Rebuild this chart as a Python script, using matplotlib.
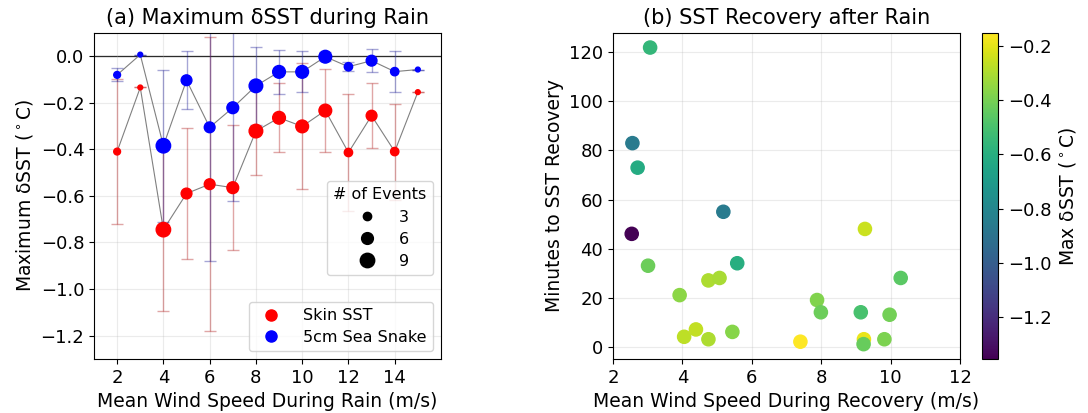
import numpy as np
import matplotlib
matplotlib.use('Agg')
import matplotlib.pyplot as plt
from matplotlib.lines import Line2D

# (a) binned wind speed, maximum dSST per bin
wind_bins = [2, 3, 4, 5, 6, 7, 8, 9, 10, 11, 12, 13, 14, 15]
n_events = [2, 1, 9, 5, 5, 6, 8, 7, 7, 7, 3, 5, 3, 1]
skin_mean = [-0.41, -0.135, -0.745, -0.59, -0.55, -0.565, -0.322, -0.265, -0.302, -0.234, -0.414, -0.256, -0.41, -0.155]
skin_std = [0.31, 0.0, 0.35, 0.28, 0.63, 0.267, 0.187, 0.149, 0.27, 0.177, 0.25, 0.139, 0.206, 0.0]
snake_mean = [-0.081, 0.006, -0.385, -0.104, -0.306, -0.222, -0.128, -0.068, -0.068, -0.003, -0.046, -0.02, -0.067, -0.058]
snake_std = [0.028, 0.0, 0.326, 0.125, 0.574, 0.4, 0.168, 0.093, 0.088, 0.02, 0.02, 0.05, 0.088, 0.0]

# (b) recovery events
rec_wind = [2.54, 5.18, 9.26, 3.01, 5.58, 4.75, 5.07, 10.29, 3.92, 7.88, 7.99, 9.14,
            9.97, 4.05, 4.39, 4.75, 5.44, 7.40, 9.23, 9.22, 9.82, 3.07, 2.56, 2.71]
rec_minutes = [46, 55, 48, 33, 34, 27, 28, 28, 21, 19, 14, 14,
               13, 4, 7, 3, 6, 2, 3, 1, 3, 122, 83, 73]
rec_dsst = [-1.353, -0.86, -0.25, -0.42, -0.6, -0.3, -0.31, -0.46, -0.36, -0.38, -0.42, -0.5,
            -0.41, -0.27, -0.26, -0.3, -0.37, -0.152, -0.19, -0.43, -0.39, -0.56, -0.86, -0.62]

plt.rcParams['font.size'] = 13
plt.rcParams['xtick.labelsize'] = 13
plt.rcParams['ytick.labelsize'] = 13

def size_of(n):
    return np.array(n) * 12.0

fig = plt.figure(figsize=(10.88, 4.13), dpi=100)
ax1 = fig.add_axes([0.0864, 0.1308, 0.3189, 0.79])
ax2 = fig.add_axes([0.5634, 0.1308, 0.3190, 0.79])
cax = fig.add_axes([0.9026, 0.1308, 0.0150, 0.79])

# ---- panel a
ax1.axhline(0, color='k', lw=0.9, zorder=1)
ax1.plot(wind_bins, skin_mean, color='grey', lw=0.8, zorder=2)
ax1.plot(wind_bins, snake_mean, color='grey', lw=0.8, zorder=2)
ax1.errorbar(wind_bins, skin_mean, yerr=skin_std, fmt='none', ecolor='firebrick',
             alpha=0.4, capsize=4, lw=1, zorder=2)
ax1.errorbar(wind_bins, snake_mean, yerr=snake_std, fmt='none', ecolor='darkblue',
             alpha=0.35, capsize=4, lw=1, zorder=2)
ax1.scatter(wind_bins, skin_mean, s=size_of(n_events), color='red', zorder=3)
ax1.scatter(wind_bins, snake_mean, s=size_of(n_events), color='blue', zorder=3)

ax1.set_xlim(1, 16)
ax1.set_ylim(-1.3, 0.1)
ax1.set_xticks([2, 4, 6, 8, 10, 12, 14])
ax1.grid(True, alpha=0.25)
ax1.set_title('(a) Maximum δSST during Rain', fontsize=15)
ax1.set_xlabel('Mean Wind Speed During Rain (m/s)', fontsize=13.5)
ax1.set_ylabel('Maximum δSST ($^\\circ$C)', fontsize=13.5)

size_handles = [Line2D([], [], ls='', marker='o', color='k', markersize=np.sqrt(12.0 * n))
                for n in [3, 6, 9]]
leg_size = ax1.legend(size_handles, ['3', '6', '9'], title='# of Events',
                      loc='upper right', bbox_to_anchor=(1.0, 0.57), fontsize=11.5,
                      title_fontsize=11.5, labelspacing=0.45, handletextpad=1.0)
ax1.add_artist(leg_size)
series_handles = [Line2D([], [], ls='', marker='o', color='red', markersize=8),
                  Line2D([], [], ls='', marker='o', color='blue', markersize=8)]
ax1.legend(series_handles, ['Skin SST', '5cm Sea Snake'], loc='lower right',
           fontsize=11.5, handletextpad=1.0, labelspacing=0.4)

# ---- panel b
sc = ax2.scatter(rec_wind, rec_minutes, c=rec_dsst, cmap='viridis', s=90,
                 vmin=min(rec_dsst), vmax=max(rec_dsst), zorder=3)
ax2.set_xlim(2, 12)
ax2.grid(True, alpha=0.25)
ax2.set_title('(b) SST Recovery after Rain', fontsize=15)
ax2.set_xlabel('Mean Wind Speed During Recovery (m/s)', fontsize=13.5)
ax2.set_ylabel('Minutes to SST Recovery', fontsize=13.5)
cb = fig.colorbar(sc, cax=cax)
cb.set_label('Max δSST ($^\\circ$C)', fontsize=13.5)

fig.savefig('out.png', dpi=100)
